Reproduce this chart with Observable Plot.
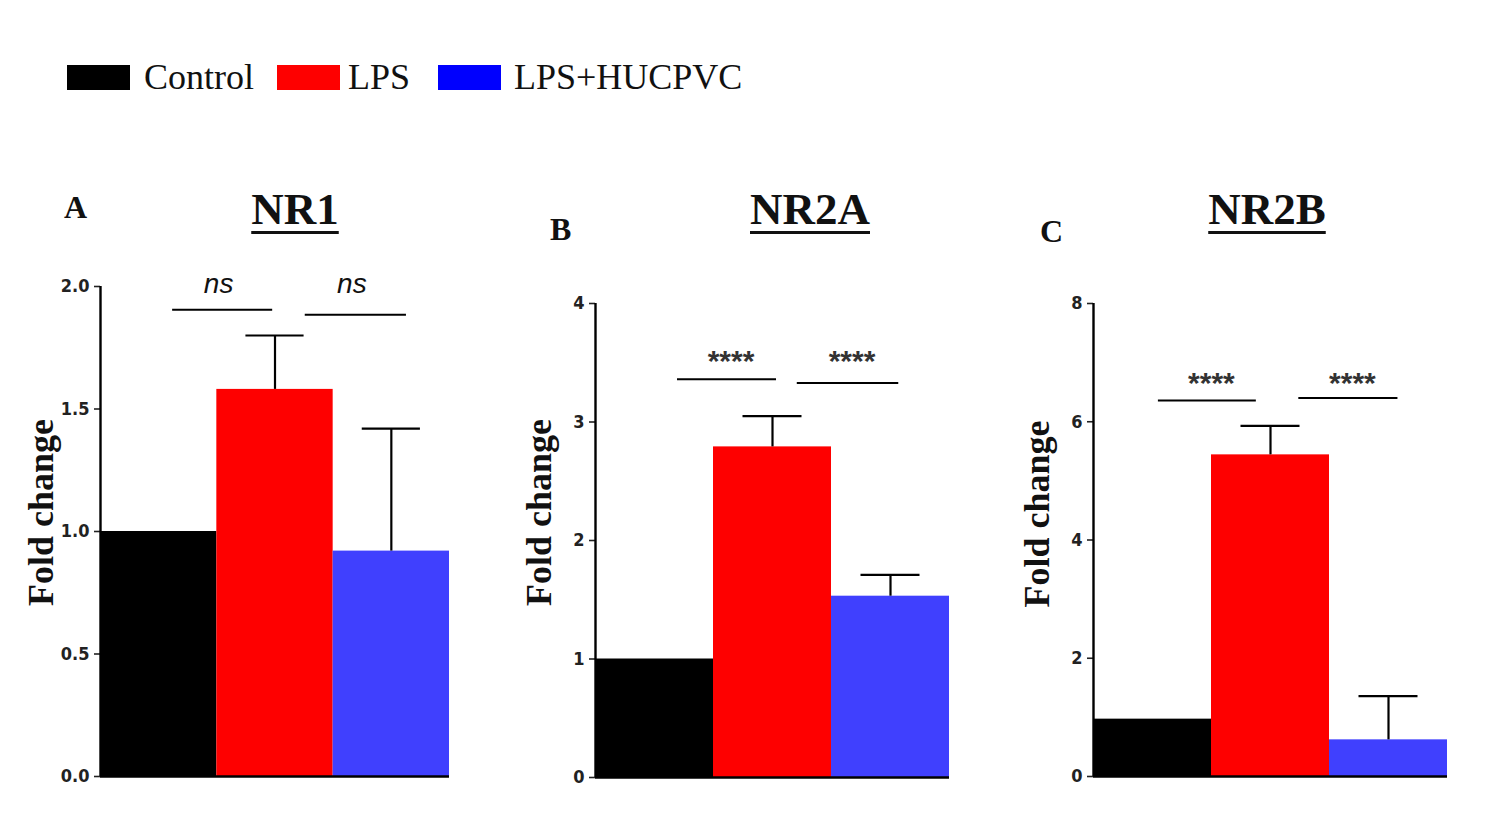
<!DOCTYPE html>
<html>
<head>
<meta charset="utf-8">
<script src="https://cdn.jsdelivr.net/npm/d3@7"></script>
<script src="https://cdn.jsdelivr.net/npm/@observablehq/plot@0.6"></script>
<style>
  html, body { margin: 0; padding: 0; background: #fff; }
  #page { position: relative; width: 1488px; height: 824px; overflow: hidden; background: #fff; }
  .legend-swatch { position: absolute; width: 63px; height: 25px; }
  .legend-text { position: absolute; white-space: nowrap; font: 36px/36px "Liberation Serif", "Times New Roman", serif; color: #111; }
  .title { position: absolute; width: 240px; text-align: center; font: bold 45px/45px "Liberation Serif", "Times New Roman", serif; color: #111;
           text-decoration: underline; text-decoration-thickness: 3px; text-underline-offset: 7px; }
  .letter { position: absolute; font: bold 32px/32px "Liberation Serif", "Times New Roman", serif; color: #111; }
  .panel { position: absolute; }
  g[aria-label="y-axis tick"] { stroke-width: 1.6px; }
  g[aria-label="sig-stars"] text { letter-spacing: 5px; }
</style>
</head>
<body>
<div id="page"></div>
<script>
// ---------- data ----------
const groups = ["Control", "LPS", "LPS+HUCPVC"];
const comparisons = [["Control", "LPS"], ["LPS", "LPS+HUCPVC"]];

const nr1Values = [1.00, 1.58, 0.92];
const nr1Errors = [0, 0.22, 0.50];
const nr1SigLabels = ["ns", "ns"];
const nr1SigY = [1.905, 1.885];
const nr1SigLabelY = 1.975;
const nr1Ticks = [0, 0.5, 1.0, 1.5, 2.0];

const nr2aValues = [1.00, 2.79, 1.53];
const nr2aErrors = [0, 0.26, 0.18];
const nr2aSigLabels = ["****", "****"];
const nr2aSigY = [3.36, 3.33];
const nr2aSigLabelY = 3.43;
const nr2aTicks = [0, 1, 2, 3, 4];

const nr2bValues = [0.97, 5.44, 0.62];
const nr2bErrors = [0, 0.49, 0.74];
const nr2bSigLabels = ["****", "****"];
const nr2bSigY = [6.36, 6.40];
const nr2bSigLabelY = 6.48;
const nr2bTicks = [0, 2, 4, 6, 8];

const panelTitles = ["NR1", "NR2A", "NR2B"];
const panelLetters = ["A", "B", "C"];
const yLabel = "Fold change";

// ---------- styles / layout ----------
const barColors = ["#000000", "#fe0000", "#4040fe"];
const legendColors = ["#000000", "#fe0000", "#0000fe"];

const page = document.getElementById("page");

function addDiv(cls, text, style) {
  const d = document.createElement("div");
  d.className = cls;
  if (text != null) d.textContent = text;
  Object.assign(d.style, style);
  page.appendChild(d);
  return d;
}

// legend
const legendLayout = [
  {sw: 67, tx: 144},
  {sw: 277, tx: 348},
  {sw: 438, tx: 514}
];
groups.forEach((g, i) => {
  addDiv("legend-swatch", null, {left: legendLayout[i].sw + "px", top: "65px", background: legendColors[i]});
  addDiv("legend-text", g, {left: legendLayout[i].tx + "px", top: "59px"});
});

function panel(cfg) {
  const {values, errors, sigLabels, sigY, sigLabelY, ticks, tickFormat, ymax, L} = cfg;
  const rows = groups.map((g, i) => ({group: g, i, value: values[i], err: errors[i]}));
  const errRows = rows.filter(d => d.err > 0);
  const sig = comparisons.map((c, k) => ({
    label: sigLabels[k],
    y: sigY[k],
    x1: groups.indexOf(c[0]) + L.brackets[k][0],
    x2: groups.indexOf(c[1]) + L.brackets[k][1]
  }));
  const isStars = sigLabels[0].includes("*");
  const chart = Plot.plot({
    width: L.width,
    height: L.height,
    marginLeft: L.ml,
    marginRight: L.mr,
    marginTop: L.mt,
    marginBottom: L.mb,
    x: {domain: [-0.5, 2.5], axis: null},
    y: {domain: [0, ymax], ticks: ticks, tickFormat: tickFormat, tickSize: 6, tickPadding: 5, label: null},
    color: {domain: groups, range: barColors},
    style: {
      fontFamily: '"Liberation Sans Narrow", "DejaVu Sans Condensed", sans-serif',
      fontSize: "18px",
      fontWeight: "bold",
      color: "#222",
      background: "transparent",
      overflow: "visible"
    },
    marks: [
      Plot.rect(rows, {x1: d => d.i - 0.5, x2: d => d.i + 0.5, y1: 0, y2: "value", fill: "group"}),
      Plot.ruleX(errRows, {x: "i", y1: "value", y2: d => d.value + d.err, stroke: "#000", strokeWidth: 2.2}),
      Plot.ruleY(errRows, {y: d => d.value + d.err, x1: d => d.i - 0.25, x2: d => d.i + 0.25, stroke: "#000", strokeWidth: 2.2}),
      Plot.ruleY(sig, {y: "y", x1: "x1", x2: "x2", stroke: "#000", strokeWidth: 2}),
      Plot.text(sig, {
        x: d => (d.x1 + d.x2) / 2, y: () => sigLabelY, text: "label",
        lineAnchor: "bottom", dx: isStars ? 4 : -4,
        fontSize: isStars ? 30 : 28,
        fontStyle: isStars ? "normal" : "italic",
        fontWeight: isStars ? "bold" : "normal",
        fontFamily: '"Liberation Sans", Arial, sans-serif',
        fill: isStars ? "#333" : "#111",
        ariaLabel: isStars ? "sig-stars" : "sig-ns"
      }),
      Plot.ruleY([0], {stroke: "#000", strokeWidth: 2.4}),
      Plot.ruleX([-0.5], {y1: 0, y2: ymax, stroke: "#000", strokeWidth: 2.4}),
      Plot.text([yLabel], {
        text: d => d, frameAnchor: "left", rotate: -90, textAnchor: "middle",
        dx: L.labelDx, dy: L.labelDy,
        fontSize: 36, fontWeight: "bold",
        fontFamily: '"Liberation Serif", "Times New Roman", serif',
        fill: "#111", ariaLabel: "y-label"
      })
    ]
  });
  const wrap = document.createElement("div");
  wrap.className = "panel";
  wrap.style.left = L.left + "px";
  wrap.style.top = L.top + "px";
  wrap.appendChild(chart);
  page.appendChild(wrap);
}

panel({
  values: nr1Values, errors: nr1Errors, sigLabels: nr1SigLabels, sigY: nr1SigY, sigLabelY: nr1SigLabelY,
  ticks: nr1Ticks, tickFormat: d3.format(".1f"), ymax: 2,
  L: {left: 0, top: 240, width: 470, height: 560, ml: 100, mr: 21, mt: 46, mb: 24,
      labelDx: -59, labelDy: -19, brackets: [[0.12, -0.02], [0.26, 0.13]]}
});
panel({
  values: nr2aValues, errors: nr2aErrors, sigLabels: nr2aSigLabels, sigY: nr2aSigY, sigLabelY: nr2aSigLabelY,
  ticks: nr2aTicks, tickFormat: d3.format("d"), ymax: 4,
  L: {left: 480, top: 240, width: 490, height: 560, ml: 115, mr: 21, mt: 63, mb: 23,
      labelDx: -56, labelDy: -28, brackets: [[0.195, 0.034], [0.21, 0.07]]}
});
panel({
  values: nr2bValues, errors: nr2bErrors, sigLabels: nr2bSigLabels, sigY: nr2bSigY, sigLabelY: nr2bSigLabelY,
  ticks: nr2bTicks, tickFormat: d3.format("d"), ymax: 8,
  L: {left: 980, top: 240, width: 490, height: 560, ml: 113, mr: 23, mt: 63, mb: 24,
      labelDx: -56, labelDy: -26, brackets: [[0.05, -0.12], [0.24, 0.08]]}
});

// titles and panel letters
const titleCenters = [295, 810, 1267];
const letterPos = [[64, 191], [550, 213], [1040, 215]];
panelTitles.forEach((t, i) => {
  addDiv("title", t, {left: (titleCenters[i] - 120) + "px", top: "187px"});
  addDiv("letter", panelLetters[i], {left: letterPos[i][0] + "px", top: letterPos[i][1] + "px"});
});
</script>
</body>
</html>
